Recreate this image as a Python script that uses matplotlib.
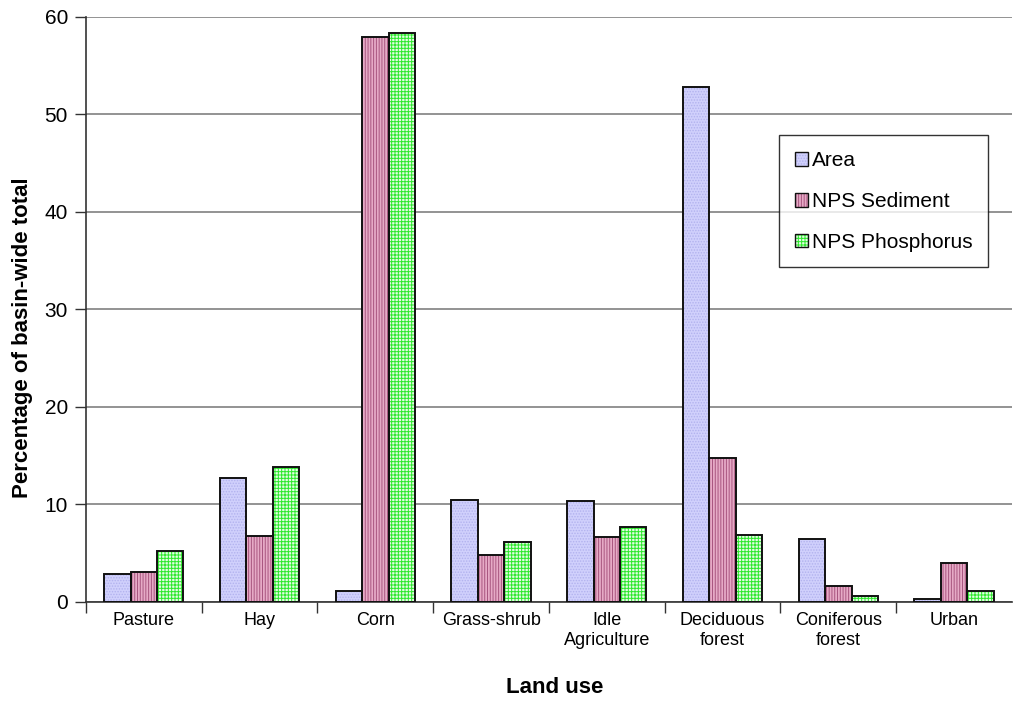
import numpy as np
import matplotlib
matplotlib.use("Agg")
import matplotlib.pyplot as plt
from matplotlib.patches import Patch
from matplotlib.legend_handler import HandlerTuple

plt.rcParams["font.family"] = ["Liberation Sans", "DejaVu Sans"]
plt.rcParams["hatch.linewidth"] = 0.7

land_use = ["Pasture", "Hay", "Corn", "Grass-shrub", "Idle\nAgriculture",
            "Deciduous\nforest", "Coniferous\nforest", "Urban"]
area = [2.9, 12.7, 1.1, 10.5, 10.4, 52.8, 6.5, 0.3]
sediment = [3.1, 6.8, 57.9, 4.8, 6.7, 14.8, 1.6, 4.0]
phosphorus = [5.2, 13.8, 58.4, 6.1, 7.7, 6.9, 0.6, 1.1]

series = [
    ("Area", area, "#d0d0fc", "#b2b2ee", "......"),
    ("NPS Sediment", sediment, "#e6aac6", "#a8557f", "||||||"),
    ("NPS Phosphorus", phosphorus, "#e2fde2", "#2ee82e", "+++++"),
]

fig = plt.figure(figsize=(10.16, 7.02), dpi=100)
ax = fig.add_axes([0.0846, 0.1425, 0.9114, 0.8333])

x = np.arange(len(land_use))
w = 0.228
handles = []
for i, (name, vals, face, hcol, hatch) in enumerate(series):
    pos = x + (i - 1) * w
    # fill + hatch first, then a plain black outline on top
    ax.bar(pos, vals, w, color=face, edgecolor=hcol, hatch=hatch,
           linewidth=0, zorder=2)
    ax.bar(pos, vals, w, fill=False, edgecolor="#111111", linewidth=1.4,
           zorder=3)
    handles.append((Patch(facecolor=face, edgecolor=hcol, hatch=hatch,
                          linewidth=0),
                    Patch(fill=False, edgecolor="#111111", linewidth=1.0)))

ax.set_xlim(-0.5, len(land_use) - 0.5)
ax.set_ylim(0, 60)
ax.set_yticks(np.arange(0, 61, 10))
ax.tick_params(axis="y", labelsize=15, length=8, width=1, color="#333333",
               pad=5)
ax.set_xticks(x - 0.5, minor=False)
ax.set_xticks(x, minor=True)
ax.set_xticklabels([])
ax.set_xticklabels(land_use, minor=True, fontsize=13, linespacing=1.25)
ax.tick_params(axis="x", which="major", length=8, width=1, color="#333333")
ax.tick_params(axis="x", which="minor", length=0, pad=7)
ax.yaxis.grid(True, color="#808080", linewidth=1.2, zorder=0)
ax.set_axisbelow(True)

for s in ("top", "right"):
    ax.spines[s].set_visible(False)
for s in ("left", "bottom"):
    ax.spines[s].set_color("#333333")
    ax.spines[s].set_linewidth(1.2)

ax.set_xlabel("Land use", fontsize=16, fontweight="bold", labelpad=20)
ax.set_ylabel("Percentage of basin-wide total", fontsize=16,
              fontweight="bold", labelpad=8)
ax.xaxis.label.set_x(0.506)
ax.yaxis.label.set_y(0.452)

leg = fig.legend(handles, [s[0] for s in series], loc="upper left",
                 bbox_to_anchor=(0.767, 0.807), fontsize=15, frameon=True,
                 fancybox=False, edgecolor="black", handlelength=0.65,
                 handleheight=0.65, handletextpad=0.15, labelspacing=1.05,
                 borderpad=0.75, borderaxespad=0,
                 handler_map={tuple: HandlerTuple(ndivide=1, pad=0)})
leg.get_frame().set_linewidth(1.0)

fig.savefig("out.png", dpi=100)
